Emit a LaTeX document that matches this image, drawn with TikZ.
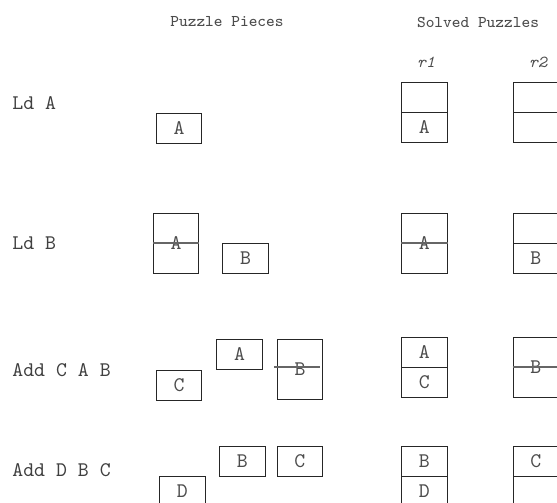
\documentclass[tikz,border=0pt]{standalone}
\begin{document}
\begin{tikzpicture}[x=0.5pt,y=-0.5pt,
  piece/.style={draw=black!85, line width=0.5pt, minimum width=22.75pt, minimum height=15pt,
    inner sep=0pt, text=black!70, font=\fontsize{10.4}{12}\selectfont\ttfamily},
  tallpiece/.style={piece, minimum height=30pt},
  midline/.style={draw=black!60, line width=0.7pt},
  rowlbl/.style={anchor=west, inner sep=0pt, text=black!75, font=\fontsize{10.4}{12}\selectfont\ttfamily},
  hdr/.style={inner sep=0pt, text=black!70, font=\fontsize{8.2}{10}\selectfont\ttfamily},
  rlbl/.style={inner sep=0pt, text=black!70, font=\fontsize{8.4}{10}\selectfont\ttfamily\itshape}]
\useasboundingbox (0,0) rectangle (557,503);
\clip (0,0) rectangle (557,503);
% headers
\node[hdr] (hpp) at (227,22) {Puzzle Pieces};
\node[hdr] (hsp) at (478,22) {Solved Puzzles};
\node[rlbl] (hr1) at (426,62) {r1};
\node[rlbl] (hr2) at (538,62) {r2};
% row labels
\node[rowlbl] (l1) at (12,103) {Ld A};
\node[rowlbl] (l2) at (12,243) {Ld B};
\node[rowlbl] (l3) at (12,370) {Add C A B};
\node[rowlbl] (l4) at (12,470) {Add D B C};
% row 1
\node[piece] (pA1) at (179,128) {A};
\node[piece] (r1u1) at (424.3,97.5) {};
\node[piece] (r1l1) at (424.3,127.5) {A};
\node[piece] (r2u1) at (535.75,97.5) {};
\node[piece] (r2l1) at (535.75,127.5) {};
% row 2
\node[tallpiece] (pA2) at (176,243) {A};
\draw[midline] (pA2.west) -- (pA2.east);
\node[piece] (pB2) at (245.5,258) {B};
\node[tallpiece] (r1t2) at (424.3,243) {A};
\draw[midline] (r1t2.west) -- (r1t2.east);
\node[piece] (r2u2) at (535.75,228) {};
\node[piece] (r2l2) at (535.75,258) {B};
% row 3
\node[piece] (pC3) at (179,385) {C};
\node[piece] (pA3) at (239.5,354.5) {A};
\node[tallpiece] (pB3) at (300,369.5) {B};
\draw[midline] ([xshift=-1.5pt,yshift=1.25pt]pB3.west) -- ([xshift=-1.5pt,yshift=1.25pt]pB3.east);
\node[piece] (r1u3) at (424.3,352) {A};
\node[piece] (r1l3) at (424.3,382) {C};
\node[tallpiece] (r2t3) at (535.75,367) {B};
\draw[midline] (r2t3.west) -- (r2t3.east);
% row 4
\node[piece] (pB4) at (242.25,461) {B};
\node[piece] (pC4) at (299.75,461) {C};
\node[piece] (pD4) at (182.25,491) {D};
\node[piece] (r1u4) at (424.3,461) {B};
\node[piece] (r1l4) at (424.3,491) {D};
\node[piece] (r2u4) at (535.75,461) {C};
\node[piece] (r2l4) at (535.75,491) {};
\end{tikzpicture}
\end{document}
